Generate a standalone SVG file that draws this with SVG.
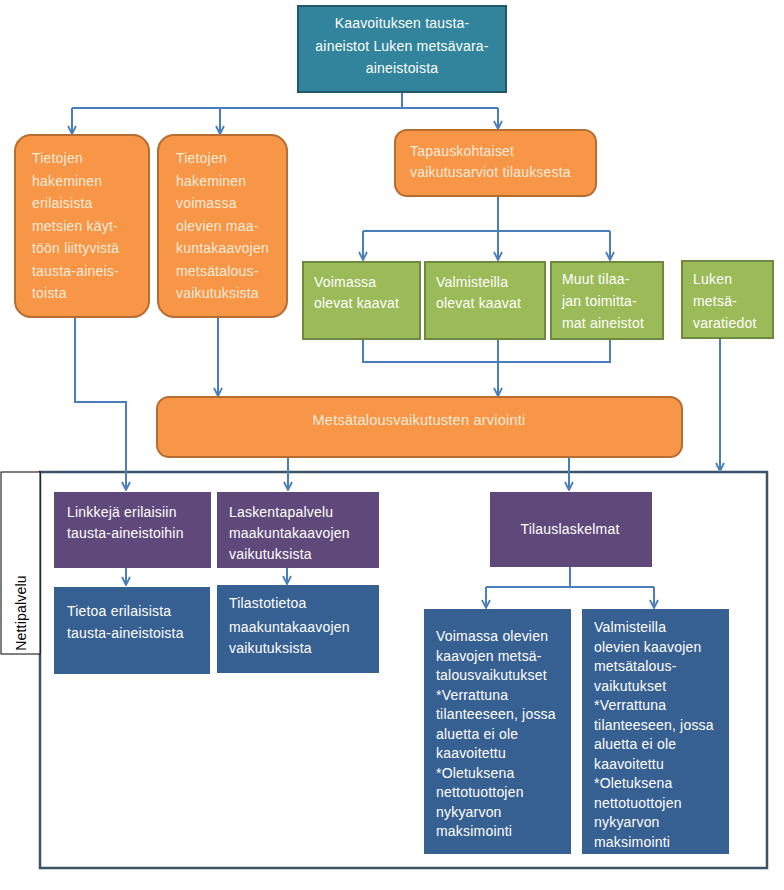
<svg xmlns="http://www.w3.org/2000/svg" width="784" height="890" viewBox="0 0 784 890">
<style>
text{font-family:"Liberation Sans",Arial,sans-serif;font-size:14px;fill:#ffffff;letter-spacing:0.2px}
.teal{fill:#31849B;stroke:#215968;stroke-width:2}
.org{fill:#F79646;stroke:#B66D31;stroke-width:2}
.grn{fill:#9BBB59;stroke:#71893F;stroke-width:2}
.pur{fill:#5F497A}
.blu{fill:#376092}
.ot{fill:#FDEADA}
.c{fill:none;stroke:#4A7EBB;stroke-width:2}
</style>
<defs>
<marker id="ah" viewBox="0 0 10 10" refX="9" refY="5" markerWidth="10" markerHeight="10" markerUnits="userSpaceOnUse" orient="auto">
<path d="M1,1 L9,5 L1,9" fill="none" stroke="#4A7EBB" stroke-width="1.8"/>
</marker>
</defs>
<rect width="784" height="890" fill="#ffffff"/>

<g id="frame">
<rect x="40" y="472" width="727" height="396" fill="none" stroke="#3B5366" stroke-width="2.5"/>
<rect x="1" y="472" width="39" height="182" fill="#ffffff" stroke="#000000" stroke-width="1"/>
<text x="0" y="0" transform="translate(26,613) rotate(-90)" text-anchor="middle" style="fill:#000000">Nettipalvelu</text>
</g>

<g id="connectors">
<path class="c" d="M402,92 V108"/>
<path class="c" d="M72,108 H498"/>
<path class="c" d="M72,108 V134" marker-end="url(#ah)"/>
<path class="c" d="M220,108 V134" marker-end="url(#ah)"/>
<path class="c" d="M498,108 V129" marker-end="url(#ah)"/>
<path class="c" d="M498,196 V231"/>
<path class="c" d="M363,231 H610"/>
<path class="c" d="M363,231 V260" marker-end="url(#ah)"/>
<path class="c" d="M498,231 V260" marker-end="url(#ah)"/>
<path class="c" d="M610,231 V260" marker-end="url(#ah)"/>
<path class="c" d="M363,339 V362 H610 V339"/>
<path class="c" d="M498,339 V396" marker-end="url(#ah)"/>
<path class="c" d="M218,317 V396" marker-end="url(#ah)"/>
<path class="c" d="M75,317 V402 H126 V490" marker-end="url(#ah)"/>
<path class="c" d="M288,457 V490" marker-end="url(#ah)"/>
<path class="c" d="M569,457 V490" marker-end="url(#ah)"/>
<path class="c" d="M720,338 V471" marker-end="url(#ah)"/>
<path class="c" d="M126,568 V585" marker-end="url(#ah)"/>
<path class="c" d="M287,568 V584" marker-end="url(#ah)"/>
<path class="c" d="M570,567 V587"/>
<path class="c" d="M486,587 H654"/>
<path class="c" d="M486,587 V608" marker-end="url(#ah)"/>
<path class="c" d="M654,587 V608" marker-end="url(#ah)"/>
</g>

<g id="top">
<rect class="teal" x="298" y="6" width="208" height="86"/>
<text x="402" y="28" text-anchor="middle">Kaavoituksen tausta-</text>
<text x="402" y="51" text-anchor="middle">aineistot Luken metsävara-</text>
<text x="402" y="73" text-anchor="middle">aineistoista</text>
</g>

<g id="o1">
<rect class="org" x="15" y="135" width="134" height="182" rx="16"/>
<text class="ot" x="32" y="163">Tietojen</text>
<text class="ot" x="32" y="185.5">hakeminen</text>
<text class="ot" x="32" y="208">erilaisista</text>
<text class="ot" x="32" y="230.5">metsien käyt-</text>
<text class="ot" x="32" y="253">töön liittyvistä</text>
<text class="ot" x="32" y="275.5">tausta-aineis-</text>
<text class="ot" x="32" y="298">toista</text>
</g>

<g id="o2">
<rect class="org" x="158" y="135" width="129" height="182" rx="16"/>
<text class="ot" x="176" y="163">Tietojen</text>
<text class="ot" x="176" y="185.5">hakeminen</text>
<text class="ot" x="176" y="208">voimassa</text>
<text class="ot" x="176" y="230.5">olevien maa-</text>
<text class="ot" x="176" y="253">kuntakaavojen</text>
<text class="ot" x="176" y="275.5">metsätalous-</text>
<text class="ot" x="176" y="298">vaikutuksista</text>
</g>

<g id="o3">
<rect class="org" x="395" y="130" width="201" height="66" rx="12"/>
<text class="ot" x="410" y="156">Tapauskohtaiset</text>
<text class="ot" x="410" y="177">vaikutusarviot tilauksesta</text>
</g>

<g id="g1">
<rect class="grn" x="303" y="262" width="117" height="77"/>
<text x="314" y="287">Voimassa</text>
<text x="314" y="308">olevat kaavat</text>
</g>
<g id="g2">
<rect class="grn" x="425" y="262" width="120" height="77"/>
<text x="436" y="287">Valmisteilla</text>
<text x="436" y="308">olevat kaavat</text>
</g>
<g id="g3">
<rect class="grn" x="551" y="262" width="112" height="77"/>
<text x="562" y="284">Muut tilaa-</text>
<text x="562" y="306">jan toimitta-</text>
<text x="562" y="328">mat aineistot</text>
</g>
<g id="g4">
<rect class="grn" x="682" y="261" width="91" height="77"/>
<text x="693" y="284">Luken</text>
<text x="693" y="306">metsä-</text>
<text x="693" y="328">varatiedot</text>
</g>

<g id="arviointi">
<rect class="org" x="157" y="397" width="525" height="60" rx="12"/>
<text class="ot" x="419" y="425" text-anchor="middle" textLength="213" lengthAdjust="spacingAndGlyphs">Metsätalousvaikutusten arviointi</text>
</g>

<g id="p1">
<rect class="pur" x="54" y="492" width="157" height="76"/>
<text x="67" y="517">Linkkejä erilaisiin</text>
<text x="67" y="538">tausta-aineistoihin</text>
</g>
<g id="p2">
<rect class="pur" x="217" y="492" width="162" height="76"/>
<text x="229" y="517">Laskentapalvelu</text>
<text x="229" y="538">maakuntakaavojen</text>
<text x="229" y="559">vaikutuksista</text>
</g>
<g id="p3">
<rect class="pur" x="490" y="492" width="162" height="75"/>
<text x="570" y="534" text-anchor="middle">Tilauslaskelmat</text>
</g>

<g id="b1">
<rect class="blu" x="54" y="587" width="156" height="87"/>
<text x="67" y="616">Tietoa erilaisista</text>
<text x="67" y="638">tausta-aineistoista</text>
</g>
<g id="b2">
<rect class="blu" x="217" y="585" width="162" height="88"/>
<text x="229" y="608">Tilastotietoa</text>
<text x="229" y="632">maakuntakaavojen</text>
<text x="229" y="653">vaikutuksista</text>
</g>

<g id="b3">
<rect class="blu" x="424" y="609" width="147" height="245"/>
<text x="436" y="641">Voimassa olevien</text>
<text x="436" y="660.5">kaavojen metsä-</text>
<text x="436" y="680">talousvaikutukset</text>
<text x="436" y="699.5">*Verrattuna</text>
<text x="436" y="719">tilanteeseen, jossa</text>
<text x="436" y="738.5">aluetta ei ole</text>
<text x="436" y="758">kaavoitettu</text>
<text x="436" y="777.5">*Oletuksena</text>
<text x="436" y="797">nettotuottojen</text>
<text x="436" y="816.5">nykyarvon</text>
<text x="436" y="836">maksimointi</text>
</g>

<g id="b4">
<rect class="blu" x="582" y="609" width="147" height="245"/>
<text x="594" y="632">Valmisteilla</text>
<text x="594" y="651.5">olevien kaavojen</text>
<text x="594" y="671">metsätalous-</text>
<text x="594" y="690.5">vaikutukset</text>
<text x="594" y="710">*Verrattuna</text>
<text x="594" y="729.5">tilanteeseen, jossa</text>
<text x="594" y="749">aluetta ei ole</text>
<text x="594" y="768.5">kaavoitettu</text>
<text x="594" y="788">*Oletuksena</text>
<text x="594" y="807.5">nettotuottojen</text>
<text x="594" y="827">nykyarvon</text>
<text x="594" y="846.5">maksimointi</text>
</g>
</svg>
